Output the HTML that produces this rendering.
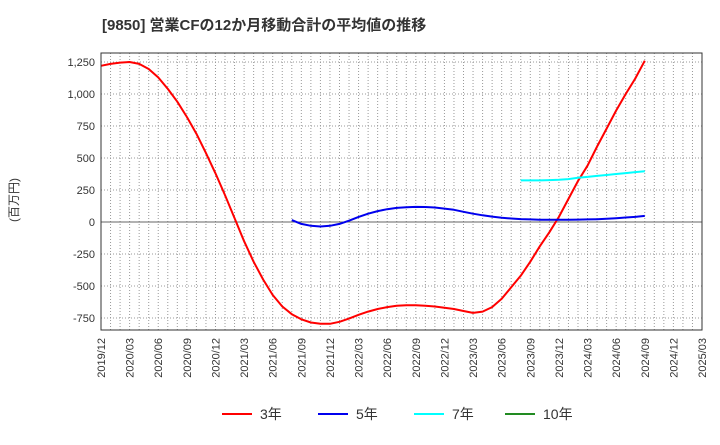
<!DOCTYPE html>
<html><head><meta charset="utf-8"><style>
body{margin:0;background:#fff;font-family:"Liberation Sans","Noto Sans CJK JP",sans-serif}
</style></head><body>
<svg id="c" width="720" height="440" xmlns="http://www.w3.org/2000/svg">
<text x="102" y="30" font-size="15" font-weight="bold" fill="#333">[9850]  営業CFの12か月移動合計の平均値の推移</text>
<text transform="translate(18,200) rotate(-90)" font-size="12" fill="#333" text-anchor="middle">(百万円)</text>
<g id="grid"></g><g id="series"></g><g id="axes"></g><g id="legend"></g>
</svg>
<script>
const yTicks=[1250,1000,750,500,250,0,-250,-500,-750];
const yTickLabels=["1,250","1,000","750","500","250","0","-250","-500","-750"];
const xTickLabels=["2019/12","2020/03","2020/06","2020/09","2020/12","2021/03","2021/06","2021/09","2021/12","2022/03","2022/06","2022/09","2022/12","2023/03","2023/06","2023/09","2023/12","2024/03","2024/06","2024/09","2024/12","2025/03"];
const s3=[1220,1235,1245,1250,1235,1195,1130,1040,940,820,690,540,380,210,30,-150,-310,-450,-570,-660,-720,-760,-785,-795,-795,-780,-755,-725,-700,-680,-665,-655,-650,-650,-655,-660,-670,-680,-695,-710,-700,-665,-600,-510,-420,-310,-190,-80,40,180,320,440,590,730,870,1000,1120,1260];
const s5Start=20;
const s5=[15,-15,-30,-35,-30,-15,10,40,65,85,100,110,115,118,117,113,105,95,80,65,52,42,33,27,23,20,18,17,17,18,19,20,22,25,30,35,40,48];
const s7Start=44;
const s7=[325,325,325,327,330,335,345,352,360,367,375,382,390,397];
const L=101,R=702,T=53,B=330,months=63;
const NS="http://www.w3.org/2000/svg";
const X=i=>L+(R-L)*i/months;
const Y=v=>222-v*32/250;
function mk(tag,attrs,parent){const e=document.createElementNS(NS,tag);for(const k in attrs)e.setAttribute(k,attrs[k]);document.getElementById(parent).appendChild(e);return e;}
for(let i=1;i<months;i++){const e=mk('line',{x1:X(i),x2:X(i),y1:T,y2:B,stroke:'#999','stroke-dasharray':'1,2','stroke-width':1},'grid');

}
yTicks.forEach((v,i)=>{const e=mk('line',{x1:L,x2:R,y1:Y(v),y2:Y(v),stroke:v===0?'#666':'#999','stroke-dasharray':v===0?'':'1,2','stroke-width':1},'grid');


const t=mk('text',{x:L-6,y:Y(v)+4,'font-size':11,fill:'#333','text-anchor':'end'},'axes');t.textContent=yTickLabels[i];

});
xTickLabels.forEach((lab,i)=>{const x=X(i*3);const t=mk('text',{transform:`translate(${x+4},${B+8}) rotate(-90)`,'font-size':11,fill:'#333','text-anchor':'end'},'axes');t.textContent=lab;

});
const fr=mk('rect',{x:L,y:T,width:R-L,height:B-T,fill:'none',stroke:'#333','stroke-width':1},'axes');


function line(arr,start,color,name){const d=arr.map((v,i)=>(i?'L':'M')+X(start+i).toFixed(1)+','+Y(v).toFixed(1)).join('');const p=mk('path',{d:d,fill:'none',stroke:color,'stroke-width':2,'stroke-linejoin':'round'},'series');

}
line(s3,0,'#ff0000','series-3yr');
line(s5,s5Start,'#0000ee','series-5yr');
line(s7,s7Start,'#00ffff','series-7yr');
const leg=[['3年','#ff0000',222],['5年','#0000ee',318],['7年','#00ffff',414],['10年','#228b22',505]];
leg.forEach(([n,c,x])=>{const l=mk('line',{x1:x,x2:x+30,y1:414,y2:414,stroke:c,'stroke-width':2},'legend');


const t=mk('text',{x:x+38,y:419,'font-size':14,fill:'#333'},'legend');t.textContent=n;

});
</script>
</body></html>
